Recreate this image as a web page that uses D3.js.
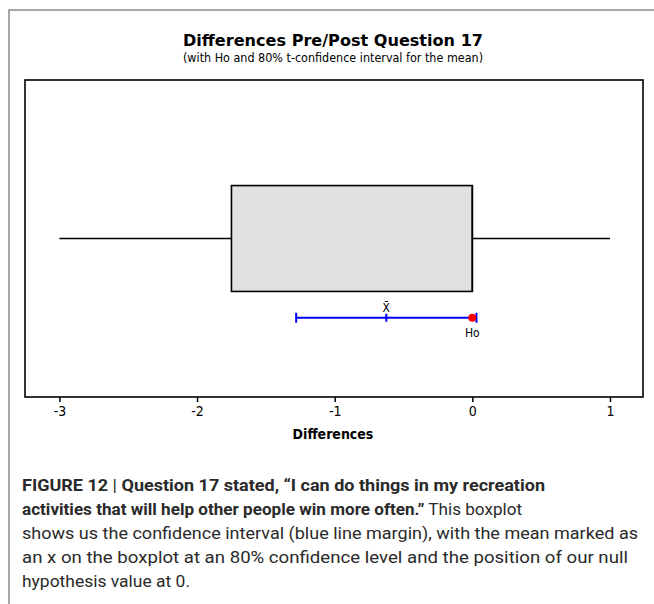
<!DOCTYPE html>
<html>
<head>
<meta charset="utf-8">
<script src="https://cdn.jsdelivr.net/npm/d3@7"></script>
<style>
  html, body { margin: 0; padding: 0; background: #fff; }
  svg { display: block; }
</style>
</head>
<body>
<svg id="chart" width="654" height="604"></svg>
<script>
// ---- Data ----
const boxLabels = ["min", "q1", "median", "q3", "max"];
const boxValues = [-3, -1.75, 0, 0, 1];
const ciLabels = ["lower", "mean", "upper"];
const ciValues = [-1.28, -0.625, 0.03];
const nullValue = [0];
const xTicks = [-3, -2, -1, 0, 1];
const titleText = "Differences Pre/Post Question 17";
const subtitleText = "(with Ho and 80% t-confidence interval for the mean)";
const xLabel = "Differences";

const svg = d3.select("#chart");
const chartFont = "Tahoma, 'DejaVu Sans Condensed', 'DejaVu Sans', sans-serif";
const capFont = "'Liberation Sans Narrow', 'Roboto', 'Liberation Sans', sans-serif";

// outer figure frame (top and left)
svg.append("path")
  .attr("d", "M9,604 L9,10 L654,10")
  .attr("fill", "none").attr("stroke", "#8a8a8a").attr("stroke-width", 1.5);

const plot = { left: 25, right: 643, top: 80, bottom: 397 };
const x = d3.scaleLinear().domain([-3.25, 1.24]).range([plot.left, plot.right]);
const y = d3.scaleLinear().domain([0, 1]).range([plot.bottom, plot.top]);

const b = Object.fromEntries(boxLabels.map((k, i) => [k, boxValues[i]]));
const ci = Object.fromEntries(ciLabels.map((k, i) => [k, ciValues[i]]));

// titles
svg.append("text").attr("x", 333).attr("y", 46).attr("text-anchor", "middle")
  .attr("font-family", chartFont).attr("font-weight", "bold").attr("font-size", 16)
  .attr("textLength", 300).attr("lengthAdjust", "spacingAndGlyphs")
  .attr("fill", "#000").text(titleText);
svg.append("text").attr("x", 333).attr("y", 62).attr("text-anchor", "middle")
  .attr("font-family", chartFont).attr("font-size", 13)
  .attr("textLength", 300).attr("lengthAdjust", "spacingAndGlyphs")
  .attr("fill", "#000").text(subtitleText);

// plot frame
svg.append("rect").attr("x", plot.left).attr("y", plot.top)
  .attr("width", plot.right - plot.left).attr("height", plot.bottom - plot.top)
  .attr("fill", "none").attr("stroke", "#000").attr("stroke-width", 1.6);

// box
const yc = y(0.5), half = y(0.5) - y(0.667);
svg.append("line").attr("x1", x(b.min)).attr("x2", x(b.q1)).attr("y1", yc).attr("y2", yc)
  .attr("stroke", "#000").attr("stroke-width", 1.5);
svg.append("line").attr("x1", x(b.q3)).attr("x2", x(b.max)).attr("y1", yc).attr("y2", yc)
  .attr("stroke", "#000").attr("stroke-width", 1.5);
svg.append("rect").attr("x", x(b.q1)).attr("y", yc - half)
  .attr("width", x(b.q3) - x(b.q1)).attr("height", 2 * half)
  .attr("fill", "#e1e1e1").attr("stroke", "#000").attr("stroke-width", 1.6);
svg.append("line").attr("x1", x(b.median)).attr("x2", x(b.median))
  .attr("y1", yc - half).attr("y2", yc + half).attr("stroke", "#000").attr("stroke-width", 1.6);

// confidence interval
const yci = y(0.25);
svg.append("line").attr("x1", x(ci.lower)).attr("x2", x(ci.upper)).attr("y1", yci).attr("y2", yci)
  .attr("stroke", "#0000ff").attr("stroke-width", 2);
[ci.lower, ci.upper].forEach(v => {
  svg.append("line").attr("x1", x(v)).attr("x2", x(v)).attr("y1", yci - 5).attr("y2", yci + 5)
    .attr("stroke", "#0000ff").attr("stroke-width", 2);
});
svg.append("line").attr("x1", x(ci.mean)).attr("x2", x(ci.mean)).attr("y1", yci - 4).attr("y2", yci + 4)
  .attr("stroke", "#0000ff").attr("stroke-width", 2);
svg.append("text").attr("x", x(ci.mean)).attr("y", yci - 6).attr("text-anchor", "middle")
  .attr("font-family", chartFont).attr("font-size", 12).attr("fill", "#000").text("X\u0304");

// null hypothesis
svg.selectAll("circle.ho").data(nullValue).join("circle").attr("class", "ho")
  .attr("cx", d => x(d)).attr("cy", yci).attr("r", 4).attr("fill", "#ff0000");
svg.selectAll("text.ho").data(nullValue).join("text").attr("class", "ho")
  .attr("x", d => x(d)).attr("y", yci + 19).attr("text-anchor", "middle")
  .attr("font-family", chartFont).attr("font-size", 12).attr("fill", "#000").text("Ho");

// x axis
const axis = d3.axisBottom(x).tickValues(xTicks).tickSize(5).tickPadding(4).tickFormat(d => String(d));
const gx = svg.append("g").attr("transform", `translate(0,${plot.bottom})`).call(axis);
gx.select(".domain").remove();
gx.attr("font-size", null).attr("font-family", null);
gx.selectAll(".tick line").attr("stroke", "#000").attr("stroke-width", 1.5);
gx.selectAll(".tick text").style("font-family", chartFont).style("font-size", "14px").attr("fill", "#000");
svg.append("text").attr("x", 333).attr("y", 439).attr("text-anchor", "middle")
  .attr("font-family", chartFont).attr("font-weight", "bold").attr("font-size", 14)
  .attr("fill", "#000").text(xLabel);

// caption
const capLines = [
  { w: 523, parts: [["FIGURE 12", "bold"], [" | ", "normal"], ["Question 17 stated, \u201cI can do things in my recreation", "bold"]] },
  { w: 500, parts: [["activities that will help other people win more often.\u201d", "bold"], [" This boxplot", "normal"]] },
  { w: 616, parts: [["shows us the confidence interval (blue line margin), with the mean marked as", "normal"]] },
  { w: 606, parts: [["an x on the boxplot at an 80% confidence level and the position of our null", "normal"]] },
  { w: 168, parts: [["hypothesis value at 0.", "normal"]] }
];
capLines.forEach((ln, i) => {
  const t = svg.append("text").attr("x", 22).attr("y", 491 + i * 24)
    .attr("font-family", capFont).attr("font-size", 17).attr("fill", "#2a2a2a")
    .attr("textLength", ln.w).attr("lengthAdjust", "spacingAndGlyphs");
  ln.parts.forEach(p => t.append("tspan").attr("font-weight", p[1]).text(p[0]));
});
</script>
</body>
</html>
